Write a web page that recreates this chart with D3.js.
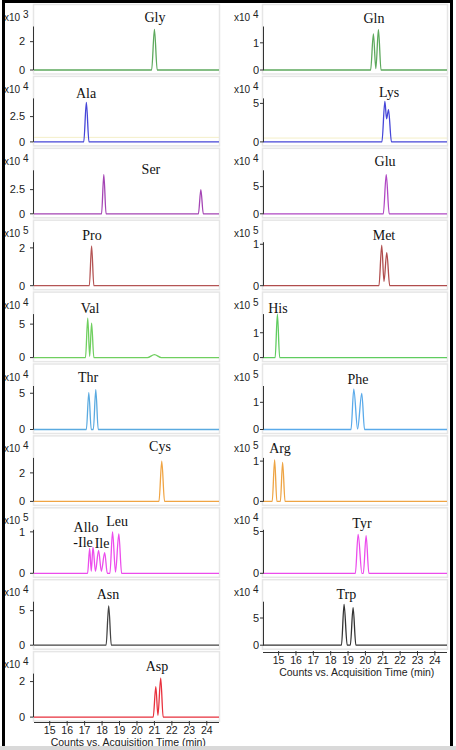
<!DOCTYPE html>
<html><head><meta charset="utf-8">
<script src="https://cdn.jsdelivr.net/npm/d3@7/dist/d3.min.js"></script>
<style>body{margin:0;background:#fff}svg{display:block}</style>
</head><body>
<script>
// ---- data ----
const xTicks = [15,16,17,18,19,20,21,22,23,24];
const xDomain = [14.1, 24.7];
const xTitle = "Counts vs. Acquisition Time (min)";

const leftNames  = ["Gly","Ala","Ser","Pro","Val","Thr","Cys","Leu","Asn","Asp"];
const leftExp    = [3,4,4,5,4,4,4,5,4,4];
const leftTick   = [2,2.5,2.5,2,5,5,2,1,5,2];
const leftYMax   = [3.07,4.3,4.5,2.3,6.5,6.0,3.05,1.05,6.3,2.45];
const rightNames = ["Gln","Lys","Glu","Met","His","Phe","Arg","Tyr","Trp"];
const rightExp   = [4,4,4,5,5,5,5,4,4];
const rightTick  = [1,5,5,1,1,1,1,5,5];
const rightYMax  = [1.6,5.65,8.0,1.05,1.75,1.6,1.08,5.2,8.0];

// traces: [time (min), counts (x10^exp)]
const Gly = [[20.84,0],[21.0,2.86],[21.16,0]];
const Ala = [[16.95,0],[17.1,3.9],[17.25,0]];
const Ser = [[17.97,0],[18.1,4.06],[18.23,0],[23.52,0],[23.66,2.5],[23.8,0]];
const Pro = [[17.27,0],[17.4,2.1],[17.53,0]];
const Val = [[17.05,0],[17.18,5.9],[17.29,0.2],[17.4,5.15],[17.53,0],[20.6,0],[21.0,0.45],[21.4,0]];
const Thr = [[17.1,0],[17.24,5.1],[17.38,0],[17.5,0],[17.64,5.5],[17.78,0]];
const Cys = [[21.26,0],[21.42,2.83],[21.58,0]];
const Leu = [[17.17,0],[17.29,0.6],[17.38,0.05],[17.48,0.63],[17.62,0.05],[17.8,0.55],[17.96,0.05],[18.15,0.5],[18.3,0],[18.45,0],[18.6,1.0],[18.77,0.03],[18.96,0.95],[19.12,0]];
const Asn = [[18.23,0],[18.38,5.7],[18.53,0]];
const Asp = [[20.93,0],[21.08,1.72],[21.2,0.1],[21.36,2.2],[21.5,0]];
const Gln = [[20.3,0],[20.46,1.33],[20.6,0.05],[20.75,1.48],[20.9,0]];
const Lys = [[20.95,0],[21.12,5.26],[21.22,3.0],[21.33,4.2],[21.5,0]];
const Glu = [[21.03,0],[21.2,7.2],[21.37,0]];
const Met = [[20.78,0],[20.94,0.98],[21.07,0.1],[21.23,0.8],[21.4,0]];
const His = [[14.8,0],[14.93,1.75],[15.06,0]];
const Phe = [[19.17,0],[19.33,1.48],[19.55,0.02],[19.79,1.33],[19.95,0]];
const Arg = [[14.63,0],[14.77,1.03],[14.9,0],[15.1,0],[15.23,0.97],[15.37,0]];
const Tyr = [[19.42,0],[19.58,4.65],[19.8,0],[19.88,0],[20.04,4.5],[20.2,0]];
const Trp = [[18.62,0],[18.77,7.5],[18.95,0],[19.13,0],[19.29,6.9],[19.45,0]];
// faint secondary baselines
const AlaBg = [[14.1,0.45],[24.7,0.45]];
const LysBg = [[14.1,0.5],[24.7,0.5]];

const leftTraces  = [Gly,Ala,Ser,Pro,Val,Thr,Cys,Leu,Asn,Asp];
const rightTraces = [Gln,Lys,Glu,Met,His,Phe,Arg,Tyr,Trp];

const leftColors  = ["#5da95d","#4646d8","#a444b4","#b45454","#6fcf5f","#5aaae0","#f0a443","#ec4cec","#444444","#e8303c"];
const rightColors = ["#5da95d","#4646d8","#b048c4","#b04c4c","#5fcc5f","#5aaaea","#eea444","#ec4cec","#333333"];

// compound label anchors: [time, offset above baseline (px)]
const leftLabelPos  = [[21.03,53],[17.08,49],[20.8,45],[17.42,51],[17.31,50],[17.2,53],[21.32,55],[18.86,52],[18.34,51],[21.15,51]];
const rightLabelPos = [[20.49,52],[21.36,50],[21.13,53],[21.07,51],[14.96,50],[19.57,51],[15.08,53],[19.8,50],[18.9,51]];
const leuExtra = [["Allo",17.08,46],["-Ile",16.91,31],["Ile",18.0,30]];

// ---- drawing ----
const W=456,H=750;
const svg=d3.select("body").append("svg").attr("width",W).attr("height",H);
svg.append("rect").attr("width",W).attr("height",H).attr("fill","#fff");

const rowStep=71.9, firstBase=70, plotH=43.5;
const cols=[
 {names:leftNames,exp:leftExp,tick:leftTick,ymax:leftYMax,traces:leftTraces,colors:leftColors,lab:leftLabelPos,
  x0:34,x1:219,axisX:33,tickLabX:25,expX:4,axOff:5},
 {names:rightNames,exp:rightExp,tick:rightTick,ymax:rightYMax,traces:rightTraces,colors:rightColors,lab:rightLabelPos,
  x0:263,x1:447,axisX:263,tickLabX:259,expX:234,axOff:6.5}
];
const sans="'Liberation Sans', Arial, sans-serif";
const serif="'Liberation Serif', 'Times New Roman', serif";

cols.forEach(c=>{
  const x=d3.scaleLinear().domain(xDomain).range([c.x0,c.x1]);
  c.names.forEach((name,i)=>{
    const base=firstBase+i*rowStep;
    const y=d3.scaleLinear().domain([0,c.ymax[i]]).range([base,base-plotH]);
    const g=svg.append("g");
    // panel box
    g.append("rect").attr("x",c.x0-0.5).attr("y",base-65.5).attr("width",c.x1-c.x0+1).attr("height",69.5)
      .attr("fill","#fff").attr("stroke","#e6e6e6").attr("stroke-width",1.5);
    // faint background trace
    const bg = name==="Ala"?AlaBg:(name==="Lys"?LysBg:null);
    const line=d3.line().x(d=>x(d[0])).y(d=>y(d[1])).curve(d3.curveMonotoneX);
    if(bg) g.append("path").attr("d",line(bg)).attr("fill","none").attr("stroke","#f4efc8").attr("stroke-width",1);
    // trace
    const pts=[[xDomain[0],0]].concat(c.traces[i],[[xDomain[1],0]]);
    g.append("path").attr("d",line(pts)).attr("fill","none").attr("stroke",c.colors[i]).attr("stroke-width",1.3);
    // y axis
    g.append("line").attr("x1",c.axisX+0.5).attr("x2",c.axisX+0.5).attr("y1",y(0)).attr("y2",y(c.ymax[i]))
      .attr("stroke","#333").attr("stroke-width",1);
    [0,c.tick[i]].forEach(v=>{
      g.append("line").attr("x1",c.axisX-3).attr("x2",c.axisX+0.5).attr("y1",y(v)).attr("y2",y(v)).attr("stroke","#333");
      g.append("text").attr("x",c.tickLabX).attr("y",y(v)+3.8).attr("text-anchor","end")
        .attr("font-family",sans).attr("font-size",11).attr("fill","#222").text(v);
    });
    // exponent label
    const et=g.append("text").attr("x",c.expX).attr("y",base-49).attr("font-family",sans).attr("font-size",10).attr("fill","#222");
    et.append("tspan").text("x10 ");
    et.append("tspan").attr("dy",-3).text(c.exp[i]);
    // compound label
    const lp=c.lab[i];
    g.append("text").attr("x",x(lp[0])).attr("y",base-lp[1]+5).attr("text-anchor","middle")
      .attr("font-family",serif).attr("font-size",14).attr("fill","#111").text(name);
    if(name==="Leu"){
      leuExtra.forEach(e=>{
        g.append("text").attr("x",x(e[1])).attr("y",base-e[2]+5).attr("text-anchor","middle")
          .attr("font-family",serif).attr("font-size",14).attr("fill","#111").text(e[0]);
      });
    }
    // x axis on last panel
    if(i===c.names.length-1){
      const ay=Math.round(base+c.axOff)+0.5;
      g.append("line").attr("x1",c.x0).attr("x2",c.x1).attr("y1",ay).attr("y2",ay).attr("stroke","#333");
      xTicks.forEach(t=>{
        g.append("line").attr("x1",x(t)).attr("x2",x(t)).attr("y1",ay-1.5).attr("y2",ay+3).attr("stroke","#333");
        g.append("text").attr("x",x(t)).attr("y",ay+11.5).attr("text-anchor","middle")
          .attr("font-family",sans).attr("font-size",10.5).attr("fill","#222").text(t);
      });
      g.append("text").attr("x",(x(15)+x(24))/2).attr("y",ay+23.5).attr("text-anchor","middle")
        .attr("font-family",sans).attr("font-size",10.5).attr("fill","#222").text(xTitle);
    }
  });
});

// outer frame
svg.append("rect").attr("x",0).attr("y",746).attr("width",W).attr("height",4).attr("fill","#d9d9d9");
svg.append("path").attr("d","M3.5,746 V1.5 H451.5 V746").attr("fill","none").attr("stroke","#000").attr("stroke-width",3);
</script>
</body></html>
